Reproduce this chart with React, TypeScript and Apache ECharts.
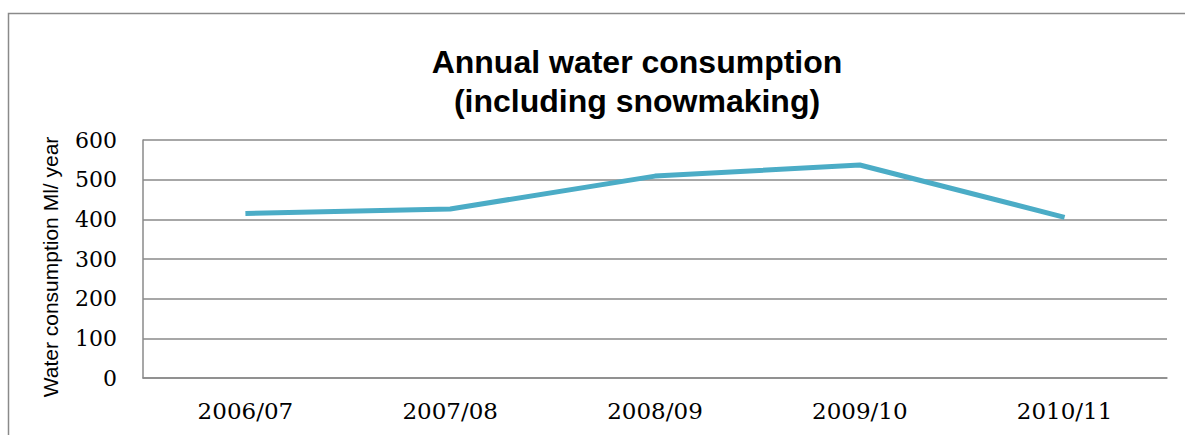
import React, { useEffect, useRef } from "react";
import * as echarts from "echarts";

const categories = ["2006/07", "2007/08", "2008/09", "2009/10", "2010/11"];
const consumption = [415, 426, 509, 537, 405];
const yTicks = { min: 0, max: 600, interval: 100 };

export default function App() {
  const ref = useRef<HTMLDivElement>(null);
  useEffect(() => {
    const chart = echarts.init(ref.current!, null, { renderer: "svg" });
    chart.setOption({
      animation: false,
      backgroundColor: "#ffffff",
      title: {
        text: "Annual water consumption\n(including snowmaking)",
        left: 632,
        top: 37,
        textAlign: "center",
        textStyle: {
          fontFamily: "Liberation Sans, Arial, sans-serif",
          fontSize: 32,
          fontWeight: "bold",
          color: "#000",
          lineHeight: 39,
        },
      },
      graphic: [
        {
          type: "rect",
          shape: { x: 8.5, y: 13.5, width: 1300, height: 600 },
          style: { fill: "none", stroke: "#8a8a8a", lineWidth: 1.5 },
          silent: true,
        },
      ],
      grid: { left: 143, right: 18, top: 140, bottom: 57, containLabel: false },
      xAxis: {
        type: "category",
        data: categories,
        boundaryGap: true,
        axisLine: { show: true, lineStyle: { color: "#8a8a8a", width: 1.5 } },
        axisTick: { show: false },
        axisLabel: {
          fontFamily: "DejaVu Serif, serif",
          fontSize: 23,
          color: "#000",
          margin: 21,
        },
        splitLine: { show: false },
      },
      yAxis: {
        type: "value",
        min: yTicks.min,
        max: yTicks.max,
        interval: yTicks.interval,
        name: "Water consumption Ml/ year",
        nameLocation: "middle",
        nameGap: 82,
        nameRotate: 90,
        nameTextStyle: {
          fontFamily: "Liberation Sans, Arial, sans-serif",
          fontSize: 21,
          color: "#000",
          padding: [0, 0, 0, -16],
        },
        axisLine: { show: true, lineStyle: { color: "#8a8a8a", width: 1.5 } },
        axisTick: { show: false },
        axisLabel: {
          fontFamily: "DejaVu Serif, serif",
          fontSize: 22,
          color: "#000",
          margin: 26,
        },
        splitLine: { show: true, lineStyle: { color: "#8a8a8a", width: 1.5 } },
      },
      series: [
        {
          type: "line",
          data: consumption,
          symbol: "none",
          lineStyle: { color: "#4BACC6", width: 5 },
          itemStyle: { color: "#4BACC6" },
        },
      ],
    });
    return () => chart.dispose();
  }, []);
  return (
    <div
      ref={ref}
      style={{ position: "fixed", left: 0, top: 0, width: 1185, height: 435 }}
    />
  );
}
